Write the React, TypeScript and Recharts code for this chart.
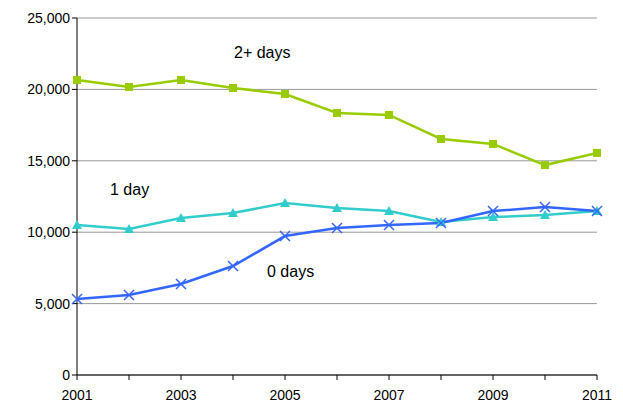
import React from 'react';
import { LineChart, Line, XAxis, YAxis, CartesianGrid } from 'recharts';

const years = [2001, 2002, 2003, 2004, 2005, 2006, 2007, 2008, 2009, 2010, 2011];
const twoPlus = [20660, 20170, 20660, 20100, 19680, 18350, 18210, 16530, 16180, 14700, 15550];
const oneDay = [10500, 10220, 10990, 11340, 12040, 11700, 11480, 10710, 11060, 11200, 11480];
const zeroDays = [5320, 5600, 6370, 7630, 9730, 10290, 10500, 10640, 11480, 11760, 11480];
const yTicks = [0, 5000, 10000, 15000, 20000, 25000];

const data = years.map((y, i) => ({ year: y, a: twoPlus[i], b: oneDay[i], c: zeroDays[i] }));

const Square = (p: any) => <rect key={p.index} x={p.cx - 4} y={p.cy - 4} width={8} height={8} fill="#99cc00" />;
const Tri = (p: any) => <polygon key={p.index} points={`${p.cx},${p.cy - 5} ${p.cx - 5},${p.cy + 4} ${p.cx + 5},${p.cy + 4}`} fill="#33cccc" />;
const Cross = (p: any) => (
  <g key={p.index} stroke="#3366ff" strokeWidth={1.5}>
    <line x1={p.cx - 5} y1={p.cy - 5} x2={p.cx + 5} y2={p.cy + 5} />
    <line x1={p.cx - 5} y1={p.cy + 5} x2={p.cx + 5} y2={p.cy - 5} />
  </g>
);

const lbl: React.CSSProperties = { position: 'absolute', fontFamily: 'Liberation Sans, Arial', fontSize: 16, color: '#000' };

export default function App() {
  return (
    <div style={{ position: 'absolute', left: 0, top: 0, width: 623, height: 410, background: '#fff' }}>
      <LineChart width={623} height={410} data={data} margin={{ top: 18, right: 26, bottom: 5, left: 0 }}>
        <CartesianGrid horizontal vertical={false} stroke="#999" />
        <XAxis dataKey="year" type="number" domain={[2001, 2011]} ticks={years}
          tickFormatter={(v: number) => (v % 2 === 1 ? String(v) : '')}
          stroke="#000" tick={{ fill: '#000', fontSize: 14, fontFamily: 'Liberation Sans, Arial', dy: 8 }} tickSize={5} height={30} />
        <YAxis domain={[0, 25000]} ticks={yTicks} tickFormatter={(v: number) => v.toLocaleString('en-US')}
          stroke="#000" width={77} tick={{ fill: '#000', fontSize: 14, fontFamily: 'Liberation Sans, Arial' }} tickSize={5} />
        <Line dataKey="a" stroke="#99cc00" strokeWidth={2.5} dot={Square} isAnimationActive={false} />
        <Line dataKey="b" stroke="#33cccc" strokeWidth={2.5} dot={Tri} isAnimationActive={false} />
        <Line dataKey="c" stroke="#3366ff" strokeWidth={2.5} dot={Cross} isAnimationActive={false} />
      </LineChart>
      <div style={{ ...lbl, left: 234, top: 44 }}>2+ days</div>
      <div style={{ ...lbl, left: 110, top: 181 }}>1 day</div>
      <div style={{ ...lbl, left: 267, top: 263 }}>0 days</div>
    </div>
  );
}
